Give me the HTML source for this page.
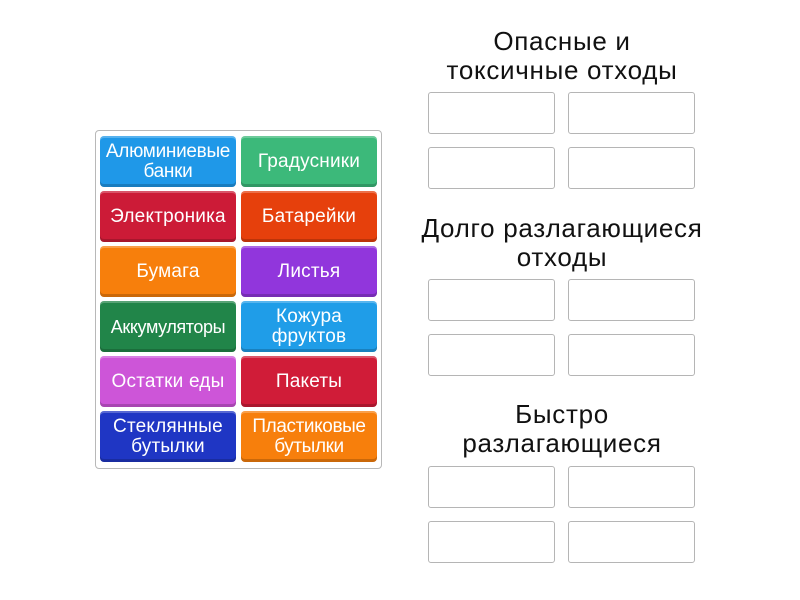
<!DOCTYPE html>
<html><head><meta charset="utf-8"><style>
body{margin:0;width:800px;height:600px;background:#fff;position:relative;overflow:hidden;font-family:"Liberation Sans","DejaVu Sans",sans-serif}
.panel{position:absolute;left:95px;top:130px;width:287px;height:339px;border:1px solid #b8b8b8;border-radius:4px;box-sizing:border-box}
.t{position:absolute;width:136px;height:51px;border-radius:4px;color:#fff;font-size:19px;line-height:20px;display:flex;align-items:center;justify-content:center;text-align:center;box-sizing:border-box;box-shadow:inset 0 -3px 0 rgba(0,0,0,.18),inset 0 2px 0 rgba(255,255,255,.25);letter-spacing:0.2px;white-space:nowrap}
.b{position:absolute;width:127px;height:42px;border:1px solid #b5b5b5;border-radius:3px;box-sizing:border-box}
.h{position:absolute;left:362px;width:400px;text-align:center;font-size:26px;line-height:29px;color:#111;letter-spacing:0.7px}
</style></head><body>
<div class="panel"></div>
<div class="t" style="left:100px;top:136px;background:#1f98e8;letter-spacing:-0.3px">Алюминиевые<br>банки</div>
<div class="t" style="left:241px;top:136px;background:#3cb97a">Градусники</div>
<div class="t" style="left:100px;top:191px;background:#cc1b37">Электроника</div>
<div class="t" style="left:241px;top:191px;background:#e6400c">Батарейки</div>
<div class="t" style="left:100px;top:246px;background:#f77f0c">Бумага</div>
<div class="t" style="left:241px;top:246px;background:#9136dc">Листья</div>
<div class="t" style="left:100px;top:301px;background:#218549;font-size:18px;letter-spacing:-0.4px">Аккумуляторы</div>
<div class="t" style="left:241px;top:301px;background:#1f9de8">Кожура<br>фруктов</div>
<div class="t" style="left:100px;top:356px;background:#cd55d8">Остатки еды</div>
<div class="t" style="left:241px;top:356px;background:#d01c38">Пакеты</div>
<div class="t" style="left:100px;top:411px;background:#1f36c4">Стеклянные<br>бутылки</div>
<div class="t" style="left:241px;top:411px;background:#f77f0c;letter-spacing:-0.4px">Пластиковые<br>бутылки</div>

<div class="h" style="top:27px">Опасные и<br>токсичные отходы</div>
<div class="b" style="left:428px;top:92px"></div><div class="b" style="left:568px;top:92px"></div>
<div class="b" style="left:428px;top:147px"></div><div class="b" style="left:568px;top:147px"></div>

<div class="h" style="top:214px">Долго разлагающиеся<br>отходы</div>
<div class="b" style="left:428px;top:279px"></div><div class="b" style="left:568px;top:279px"></div>
<div class="b" style="left:428px;top:334px"></div><div class="b" style="left:568px;top:334px"></div>

<div class="h" style="top:400px">Быстро<br>разлагающиеся</div>
<div class="b" style="left:428px;top:466px"></div><div class="b" style="left:568px;top:466px"></div>
<div class="b" style="left:428px;top:521px"></div><div class="b" style="left:568px;top:521px"></div>
</body></html>
